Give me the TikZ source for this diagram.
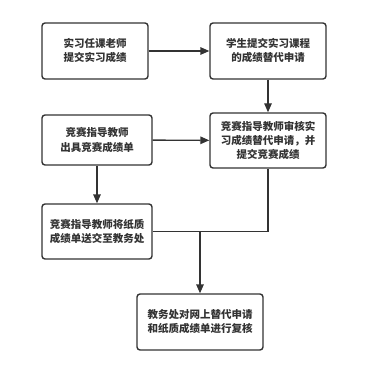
\documentclass[tikz,border=0pt]{standalone}
\usepackage{fontspec}
\newfontfamily\cjk{Noto Sans CJK SC}
\usetikzlibrary{arrows.meta}
\definecolor{ink}{HTML}{333333}
\tikzset{
  box/.style={draw=ink, line width=1.4pt, rounded corners=3pt, fill=white,
    text=ink, align=center, inner sep=0pt,
    font=\cjk\bfseries\fontsize{10.5}{14}\selectfont},
  conn/.style={draw=ink, line width=1.4pt},
  arr/.style={conn, -{Triangle[length=9pt,width=7.5pt]}}
}
\begin{document}
\begin{tikzpicture}[x=1pt,y=-1pt]
\useasboundingbox (0,0) rectangle (364,374);
\node[box, minimum width=106pt, minimum height=56pt] (A) at (95,51) {实习任课老师\\提交实习成绩};
\node[box, minimum width=116pt, minimum height=56pt] (B) at (268,51) {学生提交实习课程\\的成绩替代申请};
\node[box, minimum width=110pt, minimum height=50pt] (C) at (97,140) {竞赛指导教师\\出具竞赛成绩单};
\node[box, minimum width=116pt, minimum height=55pt] (D) at (268,140.5) {竞赛指导教师审核实\\习成绩替代申请，并\\提交竞赛成绩};
\node[box, minimum width=110pt, minimum height=55pt] (E) at (97,231.5) {竞赛指导教师将纸质\\成绩单送交至教务处};
\node[box, minimum width=126pt, minimum height=56pt] (F) at (200,322) {教务处对网上替代申请\\和纸质成绩单进行复核};
\coordinate (J) at (200,231.5);
\draw[arr] (A) -- (B);
\draw[arr] (B) -- (D);
\draw[arr] (C) -- (D);
\draw[arr] (C) -- (E);
\draw[conn] (D.south) |- (J);
\draw[conn] (E.east) -- (J);
\draw[arr] (J) -- (F.north);
\end{tikzpicture}
\end{document}
